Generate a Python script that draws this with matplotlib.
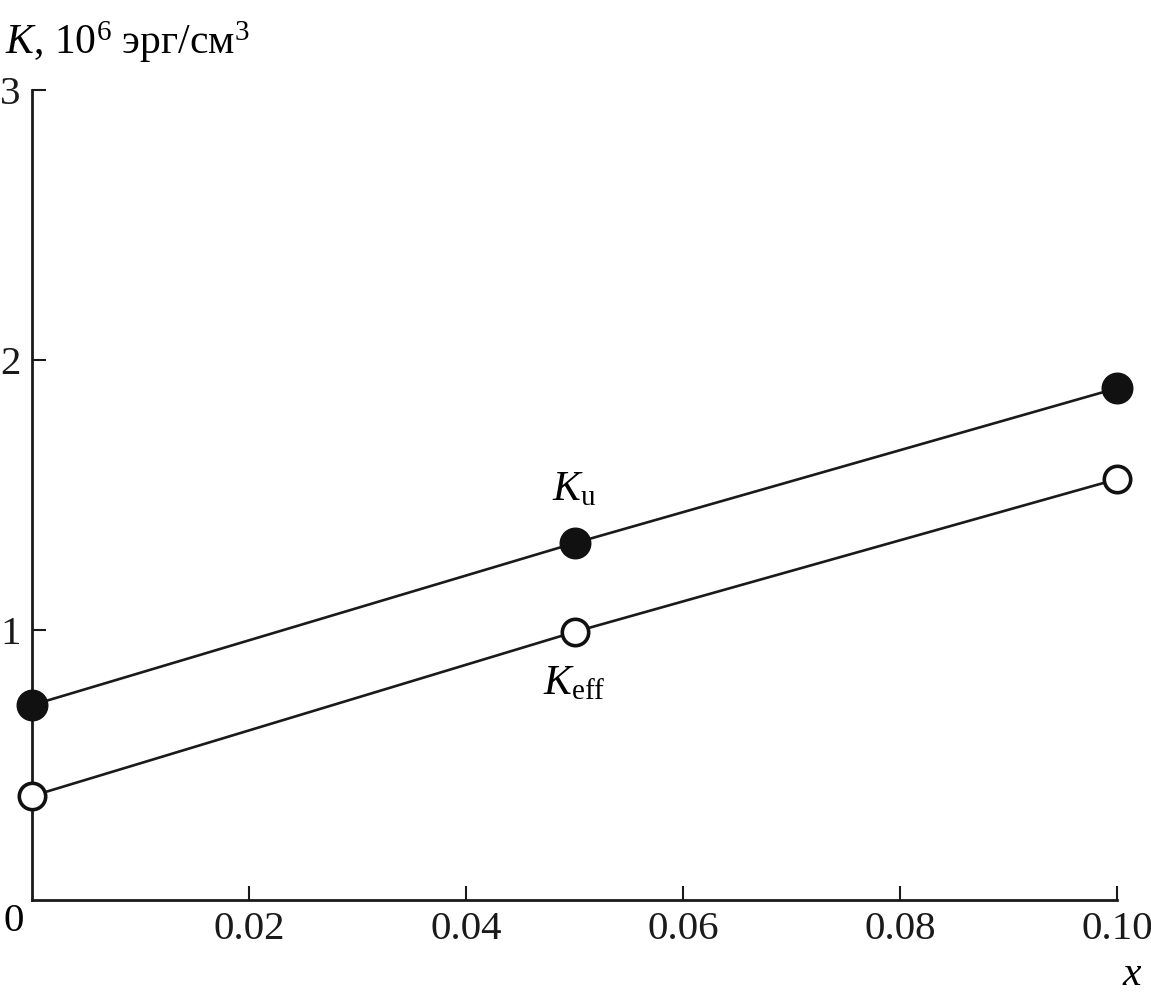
import numpy as np
import matplotlib.pyplot as plt

plt.rcParams['font.family'] = 'Liberation Serif'
plt.rcParams['mathtext.fontset'] = 'custom'
plt.rcParams['mathtext.rm'] = 'Liberation Serif'
plt.rcParams['mathtext.it'] = 'Liberation Serif:italic'

# data
x = [0.0, 0.05, 0.10]
K_u = [0.722, 1.322, 1.896]
K_eff = [0.385, 0.993, 1.559]

xticks = [0.02, 0.04, 0.06, 0.08, 0.10]
xticklabels = ['0.02', '0.04', '0.06', '0.08', '0.10']
yticks = [1, 2, 3]

fig = plt.figure(figsize=(11.51, 10.02), dpi=100)
ax = fig.add_axes([0.0278, 0.1018, 0.9427, 0.8082])

ax.plot(x, K_u, '-', color='#1a1a1a', lw=1.9)
ax.plot(x, K_eff, '-', color='#1a1a1a', lw=1.9)
ax.plot(x, K_u, 'o', color='#111111', ms=22, mec='#111111', clip_on=False, zorder=3)
ax.plot(x, K_eff, 'o', mfc='white', mec='#111111', mew=2.6, ms=19, clip_on=False, zorder=3)

ax.set_xlim(0, 0.10)
ax.set_ylim(0, 3)
ax.set_xticks(xticks)
ax.set_xticklabels(xticklabels)
ax.set_yticks(yticks)

for s in ['top', 'right']:
    ax.spines[s].set_visible(False)
for s in ['left', 'bottom']:
    ax.spines[s].set_linewidth(2.0)
    ax.spines[s].set_color('#1a1a1a')

ax.tick_params(direction='in', length=10, width=1.5, labelsize=29.5, pad=8, colors='#1a1a1a')

ax.text(-0.0017, -0.08, '0', fontsize=29.5, ha='center', va='center', transform=ax.transData, clip_on=False)
ax.text(0.0500, 1.52, r'$K_\mathrm{u}$', fontsize=30, ha='center', va='center')
ax.text(0.0500, 0.80, r'$K_\mathrm{eff}$', fontsize=30, ha='center', va='center')

fig.text(0.004, 0.958, r'$K$, 10$^6$ эрг/см$^3$', fontsize=30, ha='left', va='center')
fig.text(0.993, 0.027, r'$x$', fontsize=30, ha='right', va='center')

fig.savefig('out.png', dpi=100)
